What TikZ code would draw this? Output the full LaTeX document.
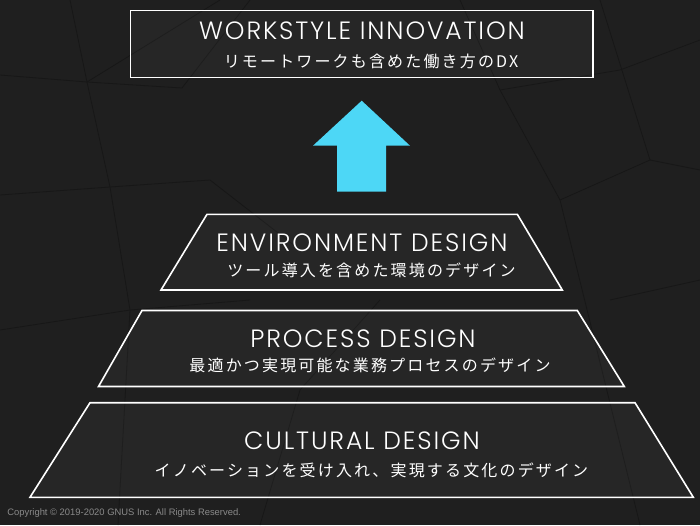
\documentclass[tikz,border=0pt]{standalone}
\usepackage{fontspec}
\setmainfont{Poppins Light}
\newfontfamily\headfont[LetterSpace=7.5]{Poppins Light}
\newfontfamily\jpfont[LetterSpace=13.5]{Noto Sans CJK JP}
\newfontfamily\smallfont{Liberation Sans}
\definecolor{bgdark}{HTML}{1F1F1F}
\definecolor{facet}{HTML}{171717}
\definecolor{upcyan}{HTML}{4DD7F6}
\definecolor{notegray}{HTML}{8A8A8A}
\tikzset{every picture/.style={line width=0.75pt}}
\tikzset{
  layer/.style={draw=white, line width=1.6pt, fill=white, fill opacity=0.03},
  headtext/.style={text=white, inner sep=0.75pt, font=\headfont\fontsize{25}{28}\selectfont},
  subtext/.style={text=white, inner sep=0.75pt, font=\jpfont\fontsize{16}{18}\selectfont}
}

\begin{document}
\begin{tikzpicture}[x=1pt,y=1pt,yscale=-1,xscale=1]
\useasboundingbox (0,0) rectangle (700,525);

%Background
\fill[bgdark] (0,0) rectangle (700,525);
%faint facets of the background
\draw[facet, line width=0.8pt] (70,0) -- (87,82) -- (110,187) -- (130,310) -- (118,525);
\draw[facet, line width=0.8pt] (0,75) -- (87,82) -- (220,0);
\draw[facet, line width=0.8pt] (87,82) -- (182,88) -- (250,0);
\draw[facet, line width=0.8pt] (0,195) -- (110,187) -- (210,180) -- (300,250);
\draw[facet, line width=0.8pt] (460,0) -- (500,90) -- (560,200) -- (640,525);
\draw[facet, line width=0.8pt] (600,0) -- (650,160) -- (700,170);
\draw[facet, line width=0.8pt] (500,90) -- (620,70) -- (700,40);
\draw[facet, line width=0.8pt] (560,200) -- (650,160);
\draw[facet, line width=0.8pt] (0,330) -- (130,310) -- (250,300);
\draw[facet, line width=0.8pt] (610,300) -- (700,280);
\draw[facet, line width=0.8pt] (260,525) -- (300,390) -- (380,300);

%Shape: Rectangle [id:workstyle]
\draw[layer] (130.5,10.5) rectangle (593,77.5);
%Shape: Block Arrow [id:uparrow]
\fill[upcyan] (361.7,100.7) -- (410,145.7) -- (386,145.7) -- (386,191.7) -- (337,191.7) -- (337,145.7) -- (313,145.7) -- cycle;
%Shape: Trapezoid [id:environment]
\draw[layer] (207,214.3) -- (517.3,214.3) -- (562.3,290) -- (161,290) -- cycle;
%Shape: Trapezoid [id:process]
\draw[layer] (142,310.5) -- (577.3,310.5) -- (624.3,386.5) -- (98.5,386.5) -- cycle;
%Shape: Trapezoid [id:cultural]
\draw[layer] (90,402.7) -- (635,402.7) -- (693.3,497.3) -- (30,497.3) -- cycle;

% Text Node
\node[headtext] (worktitle) at (362,31) {WORKSTYLE INNOVATION};
% Text Node
\node[subtext] (worksub) at (371,61) {リモートワークも含めた働き方のDX};
% Text Node
\node[headtext] (envtitle) at (362,242.5) {ENVIRONMENT DESIGN};
% Text Node
\node[subtext] (envsub) at (371.5,270) {ツール導入を含めた環境のデザイン};
% Text Node
\node[headtext] (proctitle) at (363,339) {PROCESS DESIGN};
% Text Node
\node[subtext] (procsub) at (370,365) {最適かつ実現可能な業務プロセスのデザイン};
% Text Node
\node[headtext] (culttitle) at (362,441) {CULTURAL DESIGN};
% Text Node
\node[subtext] (cultsub) at (371.5,470) {イノベーションを受け入れ、実現する文化のデザイン};
% Text Node
\node[anchor=west, inner sep=0pt, text=notegray, font=\smallfont\fontsize{9.4}{11}\selectfont] (copyright) at (7,513) {Copyright © 2019-2020 GNUS Inc. All Rights Reserved.};

\end{tikzpicture}
\end{document}
